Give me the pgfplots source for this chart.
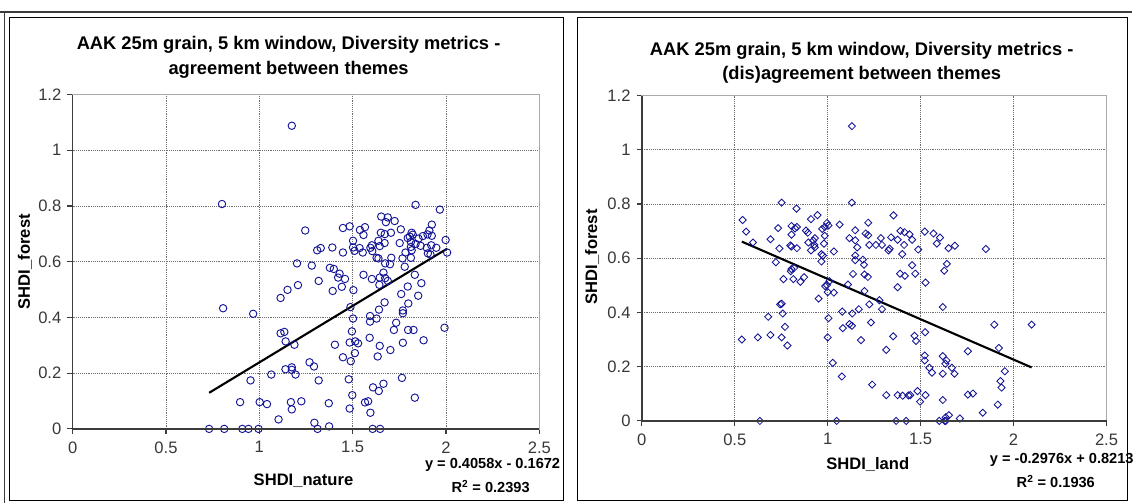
\documentclass[border=0pt]{standalone}
\usepackage{pgfplots}
\pgfplotsset{compat=1.18}
\usepackage{fontspec}
\setmainfont{Liberation Sans}
\definecolor{mk}{RGB}{20,20,150}
\definecolor{gridc}{RGB}{110,110,110}
\definecolor{axdark}{RGB}{60,60,60}
\definecolor{axlight}{RGB}{170,170,170}
\pgfplotsset{
  panel/.style={
    scale only axis, anchor=south west,
    xmin=0, xmax=2.5, ymin=0, ymax=1.2,
    xtick={0,0.5,1,1.5,2,2.5}, xticklabels={0,0.5,1,1.5,2,2.5},
    ytick={0,0.2,0.4,0.6,0.8,1,1.2}, yticklabels={0,0.2,0.4,0.6,0.8,1,1.2},
    grid=major, major grid style={densely dotted, gridc, line width=0.6pt},
    axis line style={axlight, line width=1pt},
    tick pos=left, tick align=outside, major tick length=4pt,
    tick style={axdark, line width=0.8pt},
    tick label style={font=\fontsize{12.5}{14}\selectfont, text=black!78},
    xticklabel style={yshift=-2pt},
    yticklabel style={xshift=-1pt},
    clip=false,
  },
}
\begin{document}
\begin{tikzpicture}
\begin{scope}[x=0.75pt,y=-0.75pt]
\path[use as bounding box] (0,0) rectangle (1138,505);
\draw[axdark, line width=1.5pt] (0,12) -- (1138,12);
\draw[axdark, line width=0.75pt] (5,12) -- (5,505);
\draw[black, line width=0.75pt] (10,18) rectangle (566,503);
\draw[black, line width=0.75pt] (580,18) rectangle (1133,503);
\end{scope}

% Left panel
\begin{axis}[panel, at={(54.75pt,-323.25pt)}, width=351.75pt, height=252pt]
\addplot[only marks, mark=o, mark size=2.8pt, mk, mark options={line width=0.7pt}] coordinates {
(1.174,1.088) (0.800,0.807) (0.806,0.433) (0.967,0.413) (1.246,0.712) (1.202,0.594)
(1.207,0.516) (1.151,0.499) (1.114,0.470) (1.281,0.586) (1.310,0.641) (1.329,0.649)
(1.318,0.531) (1.378,0.578) (1.391,0.651) (1.393,0.495) (1.399,0.574) (1.448,0.721)
(1.448,0.633) (1.430,0.557) (1.422,0.543) (1.442,0.510) (1.459,0.538) (1.484,0.727)
(1.502,0.675) (1.502,0.651) (1.510,0.639) (1.504,0.498) (1.539,0.714) (1.566,0.724)
(1.558,0.696) (1.537,0.649) (1.554,0.633) (1.558,0.553) (1.595,0.650) (1.603,0.659)
(1.605,0.638) (1.603,0.538) (1.653,0.762) (1.688,0.759) (1.725,0.746) (1.678,0.742)
(1.651,0.704) (1.672,0.699) (1.705,0.704) (1.758,0.716) (1.638,0.675) (1.671,0.667)
(1.645,0.656) (1.752,0.667) (1.628,0.614) (1.638,0.612) (1.707,0.614) (1.674,0.594)
(1.700,0.591) (1.767,0.612) (1.783,0.633) (1.779,0.582) (1.665,0.561) (1.674,0.541)
(1.645,0.543) (1.688,0.531) (1.643,0.517) (1.833,0.553) (1.795,0.511) (1.868,0.523)
(1.851,0.478) (1.760,0.484) (1.798,0.450) (1.671,0.454) (1.769,0.425) (1.769,0.415)
(1.641,0.428) (1.593,0.405) (1.593,0.385) (1.628,0.396) (1.488,0.437) (1.502,0.396)
(1.733,0.381) (1.721,0.355) (1.797,0.355) (1.826,0.355) (1.992,0.363) (1.880,0.318)
(1.591,0.327) (1.496,0.350) (1.484,0.310) (1.514,0.314) (1.529,0.307) (1.645,0.298)
(1.702,0.283) (1.769,0.309) (1.405,0.302) (1.448,0.257) (1.512,0.272) (1.490,0.243)
(1.634,0.260) (1.479,0.178) (1.764,0.183) (1.665,0.162) (1.609,0.149) (1.640,0.136)
(1.498,0.121) (1.833,0.112) (1.566,0.095) (1.583,0.099) (1.595,0.058) (1.484,0.073)
(1.372,0.092) (1.269,0.239) (1.293,0.224) (1.318,0.174) (1.225,0.099) (1.295,0.022)
(1.312,0.000) (1.374,0.009) (1.607,0.000) (1.647,0.000) (0.731,0.000) (0.812,0.000)
(0.909,0.000) (0.942,0.000) (0.996,0.000) (0.897,0.096) (0.953,0.174) (1.002,0.096)
(1.041,0.089) (1.064,0.195) (1.103,0.034) (1.169,0.096) (1.174,0.070) (1.140,0.214)
(1.174,0.221) (1.174,0.212) (1.194,0.195) (1.114,0.343) (1.134,0.348) (1.141,0.314)
(1.188,0.302) (1.837,0.804) (1.967,0.787) (1.924,0.733) (1.911,0.712) (1.901,0.698)
(1.816,0.704) (1.806,0.690) (1.795,0.685) (1.822,0.697) (1.853,0.683) (1.876,0.692)
(1.924,0.693) (1.998,0.678) (1.864,0.657) (1.812,0.671) (1.837,0.664) (1.921,0.659)
(1.948,0.650) (1.897,0.650) (1.903,0.630) (1.917,0.626) (2.006,0.633) (1.812,0.614)
(1.816,0.641) (1.812,0.653)
};
\addplot[black, line width=1.6pt] coordinates {(0.731,0.1294) (2.006,0.6468)};
\end{axis}

% Right panel
\begin{axis}[panel, at={(483.75pt,-317.25pt)}, width=350.25pt, height=245.25pt]
\addplot[only marks, mark=square, mark size=1.9pt, mk, mark options={rotate=45, line width=0.65pt}] coordinates {
(1.130,1.087) (0.752,0.805) (1.130,0.805) (0.832,0.783) (0.542,0.741) (0.561,0.698)
(0.598,0.658) (0.733,0.711) (0.692,0.670) (0.740,0.636) (0.721,0.585) (0.805,0.719)
(0.824,0.710) (0.834,0.715) (0.805,0.687) (0.805,0.643) (0.799,0.647) (0.834,0.637)
(0.801,0.552) (0.805,0.560) (0.819,0.564) (0.762,0.523) (0.815,0.523) (0.853,0.513)
(0.873,0.530) (0.883,0.702) (0.893,0.694) (0.910,0.744) (0.945,0.759) (0.896,0.658)
(0.922,0.665) (0.931,0.674) (0.928,0.649) (0.931,0.640) (0.910,0.629) (0.970,0.708)
(0.984,0.715) (0.996,0.730) (1.004,0.721) (0.984,0.683) (0.980,0.654) (0.966,0.615)
(0.974,0.610) (0.966,0.588) (1.033,0.625) (1.064,0.724) (1.117,0.674) (1.148,0.703)
(1.148,0.666) (1.159,0.640) (1.148,0.610) (1.148,0.593) (1.136,0.542) (1.189,0.595)
(1.195,0.576) (1.198,0.540) (1.216,0.531) (1.218,0.731) (1.204,0.691) (1.218,0.685)
(1.224,0.649) (1.259,0.649) (1.286,0.674) (1.292,0.649) (1.327,0.629) (1.341,0.677)
(1.354,0.758) (1.376,0.668) (1.391,0.701) (1.413,0.696) (1.440,0.688) (1.454,0.668)
(1.411,0.649) (1.401,0.615) (1.487,0.632) (1.522,0.698) (1.569,0.691) (1.604,0.676)
(1.587,0.654) (1.650,0.637) (1.684,0.646) (1.851,0.634) (1.454,0.574) (1.471,0.543)
(1.389,0.543) (1.415,0.535) (1.376,0.493) (1.526,0.510) (1.641,0.579) (1.627,0.554)
(1.619,0.420) (1.896,0.355) (2.097,0.355) (1.921,0.269) (1.754,0.257) (1.953,0.183)
(1.929,0.147) (1.935,0.123) (1.915,0.060) (1.834,0.030) (1.754,0.097) (1.781,0.101)
(1.711,0.009) (1.652,0.021) (1.635,0.013) (1.619,0.077) (1.600,0.000) (1.629,0.000)
(1.635,0.000) (1.619,0.239) (1.639,0.223) (1.633,0.211) (1.668,0.196) (1.682,0.174)
(1.619,0.174) (1.522,0.241) (1.522,0.223) (1.547,0.196) (1.561,0.178) (1.524,0.327)
(1.467,0.314) (1.475,0.295) (1.483,0.110) (1.497,0.071) (1.526,0.095) (1.434,0.094)
(1.444,0.095) (1.403,0.093) (1.376,0.095) (1.315,0.095) (1.315,0.262) (1.352,0.312)
(1.239,0.134) (1.368,0.000) (1.422,0.000) (1.048,0.000) (0.635,0.000) (1.233,0.363)
(1.224,0.430) (1.278,0.445) (1.292,0.412) (1.198,0.479) (1.167,0.412) (1.132,0.396)
(1.109,0.503) (1.179,0.298) (1.130,0.351) (1.117,0.357) (1.081,0.342) (1.078,0.403)
(1.004,0.379) (1.000,0.308) (1.027,0.214) (1.076,0.164) (1.033,0.473) (1.000,0.475)
(1.009,0.515) (0.996,0.501) (0.986,0.497) (0.951,0.451) (0.752,0.432) (0.744,0.430)
(0.758,0.396) (0.680,0.384) (0.770,0.347) (0.692,0.317) (0.624,0.308) (0.538,0.300)
(0.752,0.308) (0.783,0.278) (1.333,0.635)
};
\addplot[black, line width=1.6pt] coordinates {(0.538,0.6612) (2.097,0.1972)};
\end{axis}

\begin{scope}[x=0.75pt,y=-0.75pt]
% axis lines (dark left/bottom)
\draw[axdark, line width=1pt] (73,95) -- (73,431) -- (542,431);
\draw[axdark, line width=1pt] (645,96) -- (645,423) -- (1112,423);
% titles
\node[font=\fontsize{13.8}{16}\selectfont\bfseries] at (290,45) {AAK 25m grain, 5 km window, Diversity metrics -};
\node[font=\fontsize{13.8}{16}\selectfont\bfseries] at (290,70) {agreement between themes};
\node[font=\fontsize{13.8}{16}\selectfont\bfseries] at (866,51) {AAK 25m grain, 5 km window, Diversity metrics -};
\node[font=\fontsize{13.8}{16}\selectfont\bfseries] at (866,75) {(dis)agreement between themes};
% axis labels
\node[font=\fontsize{12.5}{14}\selectfont\bfseries, rotate=90] at (25,263) {SHDI\_forest};
\node[font=\fontsize{12.5}{14}\selectfont\bfseries] at (305,483) {SHDI\_nature};
\node[font=\fontsize{12.5}{14}\selectfont\bfseries, rotate=90] at (595,258) {SHDI\_forest};
\node[font=\fontsize{12.5}{14}\selectfont\bfseries] at (872,467) {SHDI\_land};
% equations
\node[font=\fontsize{11}{13}\selectfont\bfseries] at (495,467) {y = 0.4058x - 0.1672};
\node[font=\fontsize{11}{13}\selectfont\bfseries] at (493,489) {R\textsuperscript{2} = 0.2393};
\node[font=\fontsize{11}{13}\selectfont\bfseries] at (1067,462) {y = -0.2976x + 0.8213};
\node[font=\fontsize{11}{13}\selectfont\bfseries] at (1061,484) {R\textsuperscript{2} = 0.1936};
\end{scope}
\end{tikzpicture}
\end{document}
